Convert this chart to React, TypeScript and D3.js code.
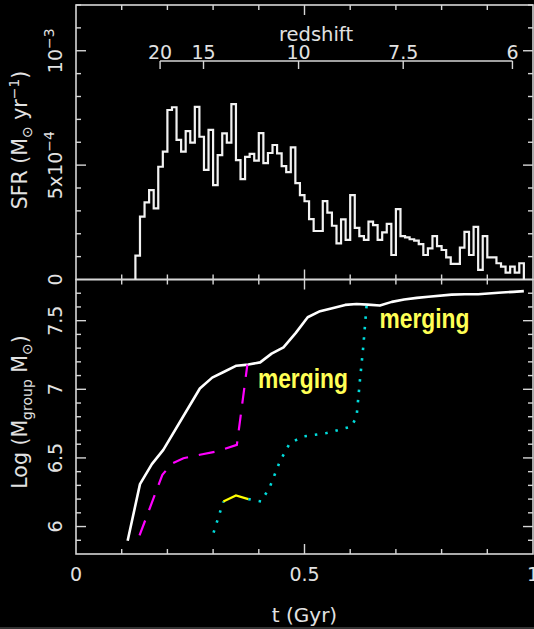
import React from 'react';
import * as d3 from 'd3';

const W = 534;
const H = 629;

// Star formation rate in 10 Myr bins starting at t = 0.13 Gyr (units of 1e-4 Msun/yr)
const binStart = 0.13;
const binWidth = 0.01;
const sfrValues = [
  1.04, 2.75, 3.37, 3.91, 3.11, 4.93, 5.59, 7.41, 7.53, 6.10,
  5.59, 6.49, 5.98, 7.55, 6.24, 4.79, 6.54, 4.13, 5.44, 6.39,
  5.98, 7.67, 5.22, 4.39, 5.36, 5.49, 5.20, 6.40, 5.09, 5.53,
  5.88, 5.51, 4.96, 4.69, 5.78, 4.21, 3.69, 3.42, 2.64, 2.12,
  2.12, 3.43, 2.92, 2.35, 1.58, 2.63, 1.73, 3.69, 2.26, 1.90,
  1.73, 2.53, 2.38, 1.73, 2.06, 2.43, 1.07, 3.08, 1.90, 1.84,
  1.76, 1.70, 1.55, 1.07, 1.36, 1.90, 1.46, 1.29, 0.97, 0.68,
  0.68, 1.39, 2.08, 1.07, 2.30, 0.42, 1.90, 0.97, 0.97, 0.71,
  0.56, 0.30, 0.56, 0.30, 0.71,
];

// Redshift scale along the top panel (cosmic age in Gyr at each redshift)
const redshiftLabels = ['20', '15', '10', '7.5', '6'];
const redshiftAges = [0.184, 0.279, 0.487, 0.716, 0.955];

// Group mass growth, [t (Gyr), log M]
const mainGroup: [number, number][] = [
  [0.113, 5.897], [0.140, 6.309], [0.166, 6.455], [0.191, 6.559], [0.271, 7.006],
  [0.298, 7.085], [0.323, 7.126], [0.351, 7.172], [0.377, 7.180], [0.403, 7.196],
  [0.428, 7.260], [0.454, 7.306], [0.481, 7.411], [0.507, 7.525], [0.534, 7.569],
  [0.563, 7.593], [0.589, 7.615], [0.614, 7.622], [0.638, 7.617], [0.665, 7.610],
  [0.691, 7.637], [0.718, 7.654], [0.746, 7.666], [0.771, 7.674], [0.822, 7.690],
  [0.851, 7.693], [0.880, 7.693], [0.902, 7.698], [0.932, 7.705], [0.957, 7.710],
  [0.980, 7.715],
];
const magentaGroup: [number, number][] = [
  [0.139, 5.935], [0.189, 6.377], [0.209, 6.457], [0.235, 6.498], [0.271, 6.523],
  [0.308, 6.547], [0.352, 6.595], [0.375, 7.180],
];
const cyanGroup: [number, number][] = [
  [0.301, 5.955], [0.3224, 6.182], [0.350, 6.226], [0.377, 6.200], [0.405, 6.182],
  [0.4245, 6.291], [0.446, 6.474], [0.468, 6.608], [0.497, 6.656], [0.5485, 6.681],
  [0.603, 6.729], [0.614, 6.802], [0.6214, 7.070], [0.6287, 7.313], [0.636, 7.617],
];
const yellowGroup: [number, number][] = [
  [0.3224, 6.182], [0.350, 6.226], [0.377, 6.200],
];

const mergeNotes = [
  { t: 0.398, m: 7.01, text: 'merging' },
  { t: 0.664, m: 7.447, text: 'merging' },
];

const xTickValues = d3.range(0, 11).map((i) => i / 10);
const xTickLabels = [
  { v: 0, label: '0' },
  { v: 0.5, label: '0.5' },
  { v: 1, label: '1' },
];
const sfrTickValues = d3.range(0, 13).map((i) => i * 1e-4);
const massTickValues = d3.range(59, 78).map((i) => i / 10);
const massTickLabels = ['6', '6.5', '7', '7.5'];

const FONT = "'DejaVu Sans', sans-serif";
const TXT = '#e2e2e2';
const AX = '#d6d6d6';

export default function App() {
  const left = 76;
  const right = 533;
  const top = 5;
  const mid = 279.5;
  const bottom = 554;

  const x = d3.scaleLinear().domain([0, 1]).range([left, right]);
  const sfrY = d3.scaleLinear().domain([0, 1.2e-3]).range([mid, top]);
  const massY = d3.scaleLinear().domain([5.8, 7.8]).range([bottom, mid]);

  // step outline of the SFR histogram
  const histPts: [number, number][] = [[x(binStart), sfrY(0)]];
  sfrValues.forEach((v, i) => {
    const t0 = binStart + i * binWidth;
    const y = sfrY(v * 1e-4);
    histPts.push([x(t0), y], [x(t0 + binWidth), y]);
  });
  histPts.push([x(binStart + sfrValues.length * binWidth), sfrY(0)]);
  const histPath = d3.line()(histPts) || '';

  const massLine = d3
    .line<[number, number]>()
    .x((d) => x(d[0]))
    .y((d) => massY(d[1]));

  const yStart = yellowGroup[0][0];
  const yEnd = yellowGroup[yellowGroup.length - 1][0];
  const cyanLine = d3
    .line<[number, number]>()
    .defined((d) => !(d[0] > yStart && d[0] < yEnd))
    .x((d) => x(d[0]))
    .y((d) => massY(d[1]));

  const isMajorX = (v: number) => Math.abs(v * 2 - Math.round(v * 2)) < 1e-6;
  const isMajorSfr = (v: number) => Math.abs(v / 5e-4 - Math.round(v / 5e-4)) < 1e-6;
  const isMajorMass = (v: number) => Math.abs(v * 2 - Math.round(v * 2)) < 1e-6;

  const ticks: JSX.Element[] = [];
  const seg = (k: string, x1: number, y1: number, x2: number, y2: number) =>
    ticks.push(<line key={k} x1={x1} y1={y1} x2={x2} y2={y2} />);

  xTickValues.forEach((v, i) => {
    const L = isMajorX(v) ? 10 : 5;
    const px = x(v);
    if (v > 0 && v < 1) {
      seg(`xt-top-${i}`, px, top, px, top + L);
      seg(`xt-mu-${i}`, px, mid, px, mid - L);
      seg(`xt-md-${i}`, px, mid, px, mid + L);
      seg(`xt-bot-${i}`, px, bottom, px, bottom - L);
    }
  });
  sfrTickValues.forEach((v, i) => {
    if (v === 0) return;
    const L = isMajorSfr(v) ? 10 : 5;
    const py = sfrY(v);
    seg(`st-l-${i}`, left, py, left + L, py);
    seg(`st-r-${i}`, right, py, right - L, py);
  });
  massTickValues.forEach((v, i) => {
    const L = isMajorMass(v) ? 10 : 5;
    const py = massY(v);
    seg(`mt-l-${i}`, left, py, left + L, py);
    seg(`mt-r-${i}`, right, py, right - L, py);
  });

  const zLineY = 61;

  return (
    <svg
      width={W}
      height={H}
      viewBox={`0 0 ${W} ${H}`}
      style={{ position: 'absolute', left: 0, top: 0, display: 'block' }}
      fontFamily={FONT}
    >
      <rect x={0} y={0} width={W} height={H} fill="#000" />

      {/* frames */}
      <g fill="none" stroke={AX} strokeWidth={1.6}>
        <rect x={left} y={top} width={right - left} height={mid - top} />
        <rect x={left} y={mid} width={right - left} height={bottom - mid} />
      </g>
      <g stroke={AX} strokeWidth={1.4}>{ticks}</g>

      {/* redshift axis */}
      <g stroke={AX} strokeWidth={1.4}>
        <line
          x1={x(redshiftAges[0])}
          x2={x(redshiftAges[redshiftAges.length - 1])}
          y1={zLineY}
          y2={zLineY}
        />
        {redshiftAges.map((t, i) => (
          <line key={`zt-${i}`} x1={x(t)} x2={x(t)} y1={zLineY} y2={zLineY + 8} />
        ))}
      </g>
      <g fill={TXT} fontSize={19} textAnchor="middle">
        {redshiftAges.map((t, i) => (
          <text key={`zl-${i}`} x={x(t)} y={59}>
            {redshiftLabels[i]}
          </text>
        ))}
        <text x={316} y={41} fontSize={19.5}>
          redshift
        </text>
      </g>

      {/* SFR histogram */}
      <path d={histPath} fill="none" stroke="#f2f2f2" strokeWidth={2.2} strokeLinejoin="miter" />

      {/* mass growth tracks */}
      <path d={massLine(mainGroup) || ''} fill="none" stroke="#ffffff" strokeWidth={2.6} strokeLinejoin="round" />
      <path
        d={massLine(magentaGroup) || ''}
        fill="none"
        stroke="#ff00ff"
        strokeWidth={2.2}
        strokeDasharray="16 11"
      />
      <path
        d={cyanLine(cyanGroup) || ''}
        fill="none"
        stroke="#00dcdc"
        strokeWidth={2.6}
        strokeDasharray="2.5 8"
      />
      <path d={massLine(yellowGroup) || ''} fill="none" stroke="#ffff00" strokeWidth={2.2} />

      {mergeNotes.map((n, i) => (
        <text
          key={`mg-${i}`}
          x={x(n.t)}
          y={massY(n.m)}
          fill="#ffff55"
          fontFamily="'Liberation Sans Narrow', 'Liberation Sans', sans-serif"
          fontWeight="bold"
          fontSize={27}
          textLength={90}
          lengthAdjust="spacingAndGlyphs"
        >
          {n.text}
        </text>
      ))}

      {/* x tick labels and title */}
      <g fill={TXT} fontSize={19} textAnchor="middle">
        {xTickLabels.map((d) => (
          <text key={`xl-${d.label}`} x={x(d.v)} y={581}>
            {d.label}
          </text>
        ))}
        <text x={x(0.5)} y={622} fontSize={20}>
          t (Gyr)
        </text>
      </g>

      {/* SFR axis labels */}
      <g fill={TXT} fontSize={19} textAnchor="middle">
        <text transform={`translate(62,${sfrY(0)}) rotate(-90)`}>0</text>
        <text transform={`translate(62,${sfrY(5e-4)}) rotate(-90)`}>
          5x10
          <tspan dy={-8} fontSize={14}>
            −4
          </tspan>
        </text>
        <text transform={`translate(62,${sfrY(1e-3)}) rotate(-90)`}>
          10
          <tspan dy={-8} fontSize={14}>
            −3
          </tspan>
        </text>
        <text transform={`translate(27,140) rotate(-90)`} fontSize={20.5}>
          SFR (M
          <tspan dy={5} fontSize={14}>
            ⊙
          </tspan>
          <tspan dy={-5}> yr</tspan>
          <tspan dy={-8} fontSize={14}>
            −1
          </tspan>
          <tspan dy={8}>)</tspan>
        </text>
      </g>

      {/* mass axis labels */}
      <g fill={TXT} fontSize={19} textAnchor="middle">
        {massTickLabels.map((l) => (
          <text key={`ml-${l}`} transform={`translate(62,${massY(+l)}) rotate(-90)`}>
            {l}
          </text>
        ))}
        <text transform={`translate(27,412) rotate(-90)`} fontSize={20.5}>
          Log (M
          <tspan dy={5} fontSize={14}>
            group
          </tspan>
          <tspan dy={-5}>{'  M'}</tspan>
          <tspan dy={5} fontSize={14}>
            ⊙
          </tspan>
          <tspan dy={-5}>)</tspan>
        </text>
      </g>

      <line x1={0} x2={W} y1={628} y2={628} stroke="#666" strokeWidth={1} />
    </svg>
  );
}
